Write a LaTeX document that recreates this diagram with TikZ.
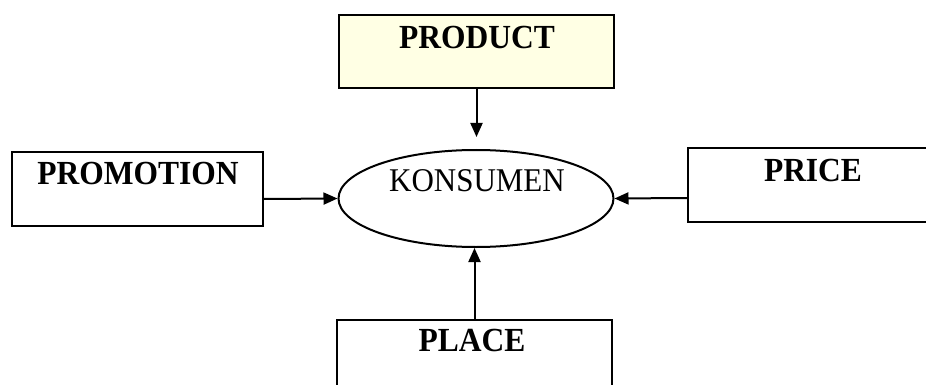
\documentclass[tikz,border=0pt]{standalone}
\usepackage{fontspec}
\setmainfont{Liberation Serif}
\usetikzlibrary{arrows.meta,shapes.geometric}
\definecolor{paleyellow}{RGB}{255,255,228}
\newcommand\tallword[1]{\scalebox{1}[1.07]{#1}}
\begin{document}
\begin{tikzpicture}[x=1pt,y=1pt,
  boxshape/.style={draw=black,line width=2pt,rectangle,inner sep=0pt},
  lbl/.style={font=\fontsize{31.5}{37}\selectfont\bfseries,inner sep=0pt,text height=0.662em,text depth=0pt},
  ellshape/.style={draw=black,line width=2pt,ellipse,inner sep=0pt,minimum width=275pt,minimum height=97pt},
  arr/.style={line width=2pt,-{Triangle[length=14pt,width=12pt]}}]
\useasboundingbox (0,0) rectangle (926,-385);
\node[boxshape,fill=paleyellow,minimum width=275pt,minimum height=73pt] (product) at (476.5,-51.5) {};
\node[lbl] (producttext) at (477,-45.5) {\tallword{PRODUCT}};
\node[boxshape,minimum width=251pt,minimum height=74pt] (promo) at (137.5,-189) {};
\node[lbl] (promotext) at (138,-181) {\tallword{PROMOTION}};
\node[boxshape,minimum width=252pt,minimum height=74pt] (price) at (814,-185) {};
\node[lbl] (pricetext) at (813,-178.5) {\tallword{PRICE}};
\node[boxshape,minimum width=275pt,minimum height=75pt] (place) at (474.5,-357.5) {};
\node[lbl] (placetext) at (472,-348.5) {\tallword{PLACE}};
\node[ellshape] (kons) at (476,-198.5) {};
\node[lbl,font=\fontsize{31}{37}\selectfont] (konstext) at (477,-188.5) {\tallword{KONSUMEN}};
\coordinate (ptip) at (476.5,-137);
\draw[arr] (product.south) -- (ptip);
\draw[arr] ([yshift=-10pt]promo.east) -- (kons.west);
\draw[arr] ([yshift=-13pt]price.west) -- (kons.east);
\draw[arr] (place.north) -- (place.north |- kons.south);
\end{tikzpicture}
\end{document}
